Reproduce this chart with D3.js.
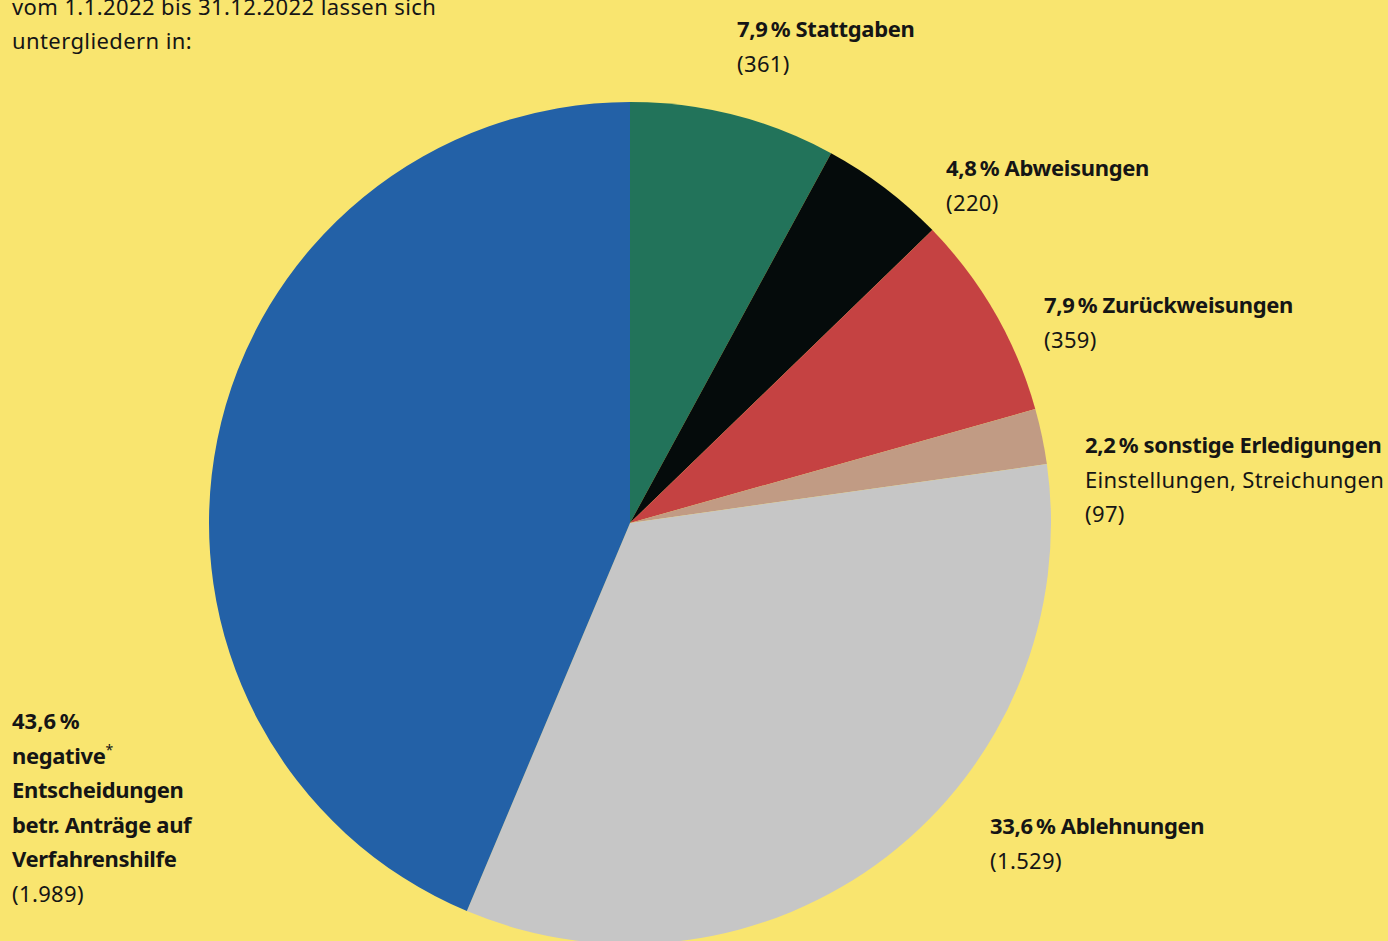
<!DOCTYPE html>
<html>
<head>
<meta charset="utf-8">
<script src="https://cdn.jsdelivr.net/npm/d3@7"></script>
<style>
  html, body { margin: 0; padding: 0; background: #f9e56f; overflow: hidden; }
  text { font-family: "Noto Sans", sans-serif; fill: #151515; }
</style>
</head>
<body>
<script>
const W = 1388;
const H = 941;

// Erledigungen 1.1.2022 - 31.12.2022
const categories = ['Stattgaben', 'Abweisungen', 'Zurückweisungen', 'sonstige Erledigungen', 'Ablehnungen', 'negative Entscheidungen'];
const counts = [361, 220, 359, 97, 1529, 1989];
const countLabels = ['(361)', '(220)', '(359)', '(97)', '(1.529)', '(1.989)'];
const percentLabels = ['7,9\u202F%', '4,8\u202F%', '7,9\u202F%', '2,2\u202F%', '33,6\u202F%', '43,6\u202F%'];
const colors = ['#22735a', '#050b0b', '#c54242', '#c19b84', '#c6c6c6', '#2361a7'];

const titleLines = ['vom 1.1.2022 bis 31.12.2022 lassen sich', 'untergliedern in:'];

const cx = 630, cy = 523, r = 421;
const lineH = 34.6;

const svg = d3.select('body').append('svg')
  .attr('width', W)
  .attr('height', H);

svg.append('rect')
  .attr('width', W)
  .attr('height', H)
  .attr('fill', '#f9e56f');

const pie = d3.pie().sort(null).value((d) => d);
const arc = d3.arc().innerRadius(0).outerRadius(r);

svg.append('g')
  .attr('transform', `translate(${cx}, ${cy})`)
  .selectAll('path')
  .data(pie(counts))
  .enter()
  .append('path')
  .attr('d', arc)
  .attr('fill', (d, i) => colors[i]);

// title
svg.append('g')
  .selectAll('text')
  .data(titleLines)
  .enter()
  .append('text')
  .attr('x', 12)
  .attr('y', (d, i) => 15 + i * 33.5)
  .attr('font-size', 22)
  .attr('letter-spacing', 0.4)
  .text((d) => d);

// labels: each line is [text, bold, superscript]
const labels = [
  { x: 737, y: 37, lines: [[percentLabels[0] + ' ' + categories[0], true], [countLabels[0], false]] },
  { x: 946, y: 176, lines: [[percentLabels[1] + ' ' + categories[1], true], [countLabels[1], false]] },
  { x: 1044, y: 313, lines: [[percentLabels[2] + ' ' + categories[2], true], [countLabels[2], false]] },
  { x: 1085, y: 453, lines: [[percentLabels[3] + ' ' + categories[3], true], ['Einstellungen, Streichungen', false], [countLabels[3], false]] },
  { x: 990, y: 834, lines: [[percentLabels[4] + ' ' + categories[4], true], [countLabels[4], false]] },
  { x: 12, y: 729, lines: [[percentLabels[5], true], ['negative', true, '*'], ['Entscheidungen', true], ['betr. Anträge auf', true], ['Verfahrenshilfe', true], [countLabels[5], false]] }
];

const lg = svg.append('g')
  .selectAll('g')
  .data(labels)
  .enter()
  .append('g');

lg.each(function (d) {
  const g = d3.select(this);
  d.lines.forEach((ln, i) => {
    const t = g.append('text')
      .attr('x', d.x)
      .attr('y', d.y + i * lineH)
      .attr('font-size', 22)
      .attr('font-weight', ln[1] ? 700 : 400)
      .attr('letter-spacing', ln[1] ? -0.35 : 0.35)
      .text(ln[0]);
    if (ln[2]) {
      t.append('tspan')
        .attr('font-size', 14)
        .attr('font-weight', 400)
        .attr('dy', -9)
        .text(ln[2]);
    }
  });
});
</script>
</body>
</html>
